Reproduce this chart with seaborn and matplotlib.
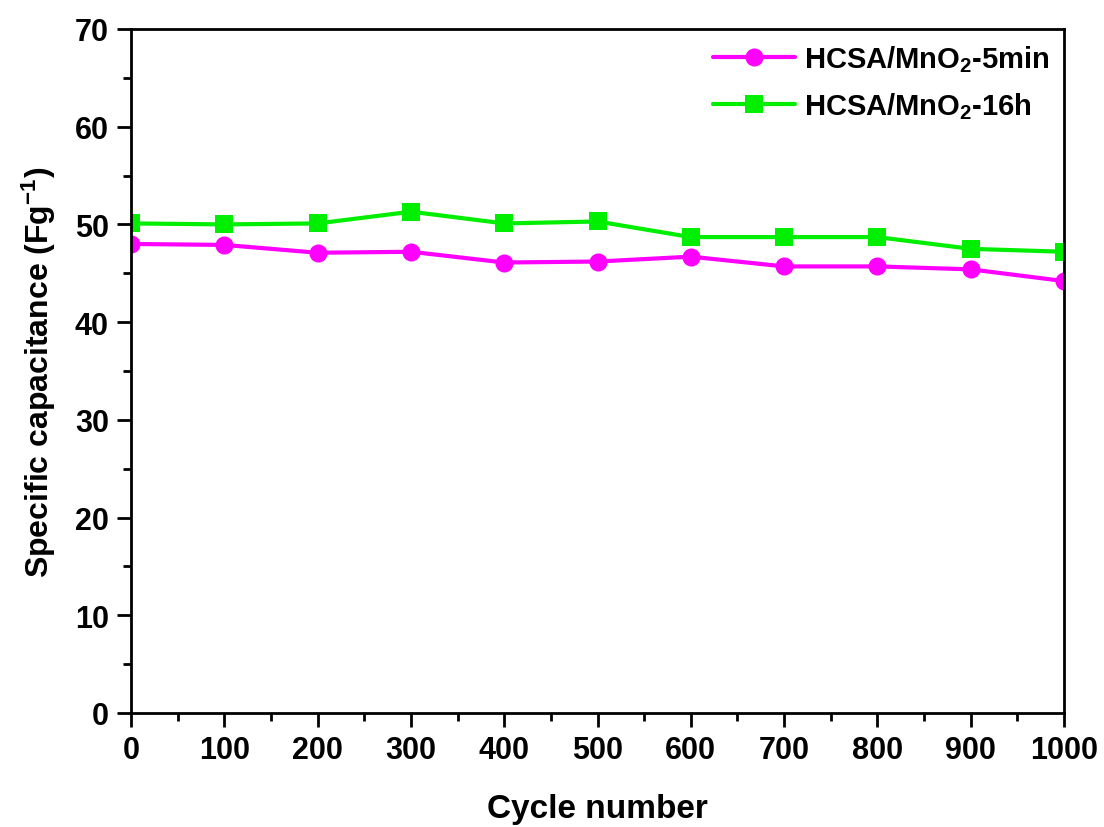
import matplotlib
matplotlib.use("Agg")
import matplotlib.pyplot as plt
from matplotlib.ticker import MultipleLocator
import seaborn as sns
import pandas as pd

sns.set_style("ticks")
plt.rcParams["font.family"] = ["Liberation Sans", "DejaVu Sans"]
plt.rcParams["font.weight"] = "bold"
plt.rcParams["mathtext.fontset"] = "custom"
plt.rcParams["mathtext.rm"] = "Liberation Sans:bold"
plt.rcParams["mathtext.default"] = "regular"
for key in ["text.color", "axes.labelcolor", "xtick.color", "ytick.color",
            "axes.edgecolor"]:
    plt.rcParams[key] = "black"

cycles = [0, 100, 200, 300, 400, 500, 600, 700, 800, 900, 1000]
cap_5min = [48.0, 47.9, 47.1, 47.2, 46.1, 46.2, 46.7, 45.7, 45.7, 45.4, 44.2]
cap_16h = [50.1, 50.0, 50.1, 51.3, 50.1, 50.3, 48.7, 48.7, 48.7, 47.5, 47.2]
labels = ["HCSA/MnO$_2$-5min", "HCSA/MnO$_2$-16h"]

df = pd.DataFrame({
    "cycle": cycles * 2,
    "cap": cap_5min + cap_16h,
    "sample": [labels[0]] * len(cycles) + [labels[1]] * len(cycles),
})

fig = plt.figure(figsize=(11.04, 8.28), dpi=100)
ax = fig.add_axes([0.1187, 0.1377, 0.8451, 0.8261])

sns.lineplot(data=df, x="cycle", y="cap", hue="sample", style="sample",
             palette={labels[0]: "#FF00FF", labels[1]: "#00EE00"},
             markers={labels[0]: "o", labels[1]: "s"},
             dashes=False, markersize=13, markeredgewidth=0,
             linewidth=3, ax=ax)

ax.set_xlim(0, 1000)
ax.set_ylim(0, 70)
ax.xaxis.set_major_locator(MultipleLocator(100))
ax.xaxis.set_minor_locator(MultipleLocator(50))
ax.yaxis.set_major_locator(MultipleLocator(10))
ax.yaxis.set_minor_locator(MultipleLocator(5))
ax.tick_params(which="major", direction="out", length=10, width=2,
               labelsize=22, pad=6)
ax.tick_params(which="minor", direction="out", length=6, width=2)
for lab in ax.get_xticklabels() + ax.get_yticklabels():
    lab.set_fontweight("bold")
for sp in ax.spines.values():
    sp.set_linewidth(2)
    sp.set_visible(True)

ax.set_xlabel("Cycle number", fontsize=24, fontweight="bold", labelpad=20)
ax.set_ylabel("Specific capacitance (Fg$^{-1}$)", fontsize=23,
              fontweight="bold", labelpad=12)

leg = ax.legend(loc="upper right", frameon=False, fontsize=21,
                handlelength=2.8, borderaxespad=0.1, labelspacing=0.55,
                handletextpad=0.3)
for t in leg.get_texts():
    t.set_fontweight("bold")

fig.savefig("out.png", dpi=100)
